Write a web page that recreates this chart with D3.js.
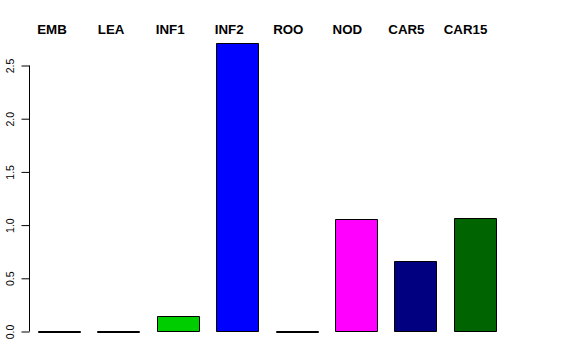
<!DOCTYPE html>
<html>
<head>
<meta charset="utf-8">
<script src="https://cdn.jsdelivr.net/npm/d3@7"></script>
<style>
  body { margin: 0; background: #fff; }
  svg { display: block; font-family: "Liberation Sans", Arial, sans-serif; }
</style>
</head>
<body>
<svg id="chart"></svg>
<script>
// data
const categories = ["EMB", "LEA", "INF1", "INF2", "ROO", "NOD", "CAR5", "CAR15"]
const values = [0, 0, 0.15, 2.71, 0, 1.055, 0.66, 1.07]
const barColors = ["#BEBEBE", "#BEBEBE", "#00CD00", "#0000FF", "#BEBEBE", "#FF00FF", "#000080", "#006400"]
const yTicks = [0, 0.5, 1, 1.5, 2, 2.5]

function BarChart(id, width = 576, height = 360){

    const svg = d3.select(`#${id}`)
                  .attr("width", width)
                  .attr("height", height)

    const x = d3.scaleBand()
                .domain(categories)
                .range([29.3, 504.5])
                .paddingInner(0.293)
                .paddingOuter(0.1465)

    // labels sit on their own slightly tighter grid
    const xLab = d3.scalePoint()
                   .domain(categories)
                   .range([52, 465.5])

    const y = d3.scaleLinear()
                .domain([0, 2.5])
                .range([331.5, 65.5])

    // bars as paths so that zero-height bars still show their border
    svg.append("g")
       .selectAll("path")
       .data(categories)
       .join("path")
       .attr("d", (d, i) => {
           const p = d3.path()
           const x0 = Math.round(x(d)) + 0.5,
                 y0 = Math.round(y(values[i])) + 0.5
           p.rect(x0, y0, Math.round(x.bandwidth()), y(0) - y0)
           return p.toString()
       })
       .attr("fill", (d, i) => barColors[i])
       .attr("stroke", "#000")
       .attr("stroke-width", 1)

    // y axis, R style
    const axis = svg.append("g")
                    .attr("transform", "translate(29.5,0)")
                    .call(d3.axisLeft(y).tickValues(yTicks).tickSize(8).tickFormat(d3.format(".1f")))
    axis.select(".domain").attr("d", `M0,${y(0)}V${y(2.5)}`).attr("stroke", "#000")
    axis.selectAll(".tick line").attr("stroke", "#000")
    axis.selectAll(".tick text")
        .attr("x", null).attr("dy", null)
        .attr("transform", "translate(-16,0) rotate(-90)")
        .attr("text-anchor", "middle")
        .attr("font-size", 10.5)
        .attr("font-family", "Liberation Sans, Arial, sans-serif")
        .attr("fill", "#000")

    // category labels on top
    svg.append("g")
       .selectAll("text")
       .data(categories)
       .join("text")
       .attr("x", d => xLab(d))
       .attr("y", 34)
       .attr("text-anchor", "middle")
       .attr("font-size", 13.3)
       .attr("font-weight", "bold")
       .text(d => d)
}

BarChart("chart")
</script>
</body>
</html>
